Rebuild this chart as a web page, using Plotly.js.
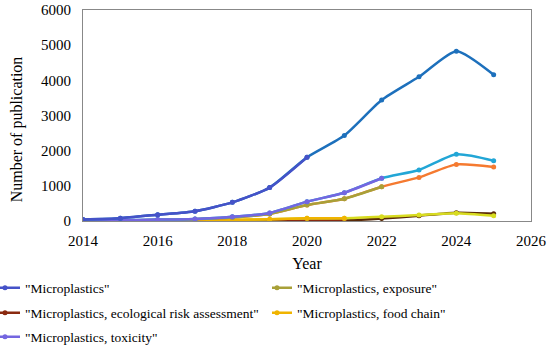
<!DOCTYPE html>
<html><head><meta charset="utf-8">
<script src="https://cdn.plot.ly/plotly-3.0.1.min.js"></script>
<style>html,body{margin:0;padding:0;background:#fff}#c{width:550px;height:346px}</style>
</head><body><div id="c"></div>
<script>
const years = [2014,2015,2016,2017,2018,2019,2020,2021,2022,2023,2024,2025];
const microplastics = [45,80,180,280,530,950,1810,2430,3440,4100,4830,4160];
const exposure = [10,15,30,50,100,200,455,635,975,1240,1610,1535];
const ecoRisk = [0,0,0,0,0,5,10,15,70,150,235,205];
const foodChain = [5,5,10,15,30,50,80,80,120,170,220,150];
const toxicity = [10,20,40,60,120,230,550,805,1215,1450,1895,1715];
const names = ['"Microplastics"','"Microplastics, exposure"','"Microplastics, ecological risk assessment"','"Microplastics, food chain"','"Microplastics, toxicity"'];
// start-of-line colour (also legend) and end-of-line colour (gradient lines in the original)
const colorsStart = ['#4552c8','#a8a038','#8a2a10','#f0b400','#7466e0'];
const colorsEnd   = ['#1d70bc','#f57a30','#5a2a08','#d8dc20','#22a6d6'];
const splitAt = [6,8,7,7,8];
const legendIds = ['legend','legend2','legend3','legend4','legend5'];
const series = [microplastics, exposure, ecoRisk, foodChain, toxicity];
const drawOrder = [2,3,1,4,0];
const traces = [];
drawOrder.forEach(i=>{
  const s = series[i];
  traces.push({x: years, y: s, name: names[i], type:'scatter', mode:'lines+markers',
    showlegend:false, legendgroup:'g'+i,
    line:{color:colorsEnd[i], width:2.5, shape:'spline', smoothing:0.6},
    marker:{color:colorsEnd[i], size:5}});
  traces.push({x: years.slice(0, splitAt[i]+1), y: s.slice(0, splitAt[i]+1), name: names[i],
    type:'scatter', mode:'lines+markers', legend: legendIds[i], legendgroup:'g'+i,
    line:{color:colorsStart[i], width:2.5, shape:'spline', smoothing:0.6},
    marker:{color:colorsStart[i], size:5}});
});
const fam = 'Liberation Serif, Times New Roman, serif';
const f = (size)=>({family:fam, size:size, color:'#000'});
const plotL = 83, plotW = 448;
const leg = (px, py)=>({orientation:'h', xref:'paper', yref:'container',
  x:(px - plotL)/plotW, xanchor:'left', y:1-py/346, yanchor:'middle', indentation:-15,
  font:f(13.5), itemwidth:30, bgcolor:'rgba(0,0,0,0)'});
const layout = {
  width:550, height:346,
  margin:{l:83, r:19, t:10, b:125},
  paper_bgcolor:'#fff', plot_bgcolor:'#fff',
  font:f(14),
  showlegend:true,
  xaxis:{range:[2014,2026], dtick:2, tick0:2014, showgrid:false, zeroline:false,
    showline:true, mirror:true, linecolor:'#888', linewidth:1, ticks:'', ticklabelstandoff:6,
    tickfont:f(15), title:{text:'Year', font:f(16), standoff:14}},
  yaxis:{range:[0,6000], dtick:1000, showgrid:false, zeroline:false,
    showline:true, mirror:true, linecolor:'#888', linewidth:1, ticks:'', ticklabelstandoff:8,
    tickfont:f(15), title:{text:'Number of publication\u00a0\u00a0\u00a0\u00a0\u00a0\u00a0\u00a0\u200b', font:f(16), standoff:14}},
  legend: leg(-22, 288),
  legend2: leg(272, 288),
  legend3: leg(-22, 313),
  legend4: leg(272, 313),
  legend5: leg(-22, 337)
};
Plotly.newPlot('c', traces, layout, {displayModeBar:false, staticPlot:true});
</script></body></html>
